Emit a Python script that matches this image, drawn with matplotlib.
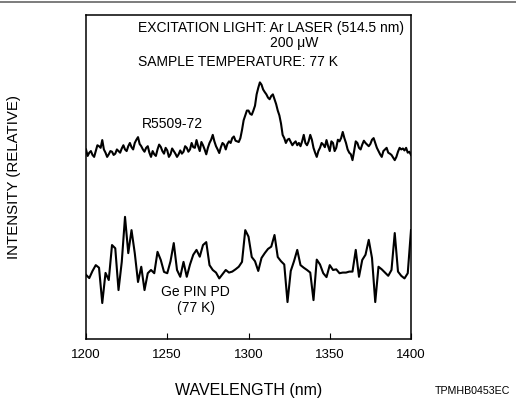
import matplotlib
matplotlib.use("Agg")
import matplotlib.pyplot as plt
import numpy as np
from matplotlib.lines import Line2D

plt.rcParams['font.family'] = ['Liberation Sans', 'DejaVu Sans']

# R5509-72 response (relative), 1 nm steps from 1200 to 1400 nm
wl_r5509 = np.arange(1200, 1401, 1)
r5509 = [5.85, 5.65, 5.75, 5.80, 5.68, 5.62, 5.80, 5.98, 5.95, 5.90,
         6.14, 5.85, 5.75, 5.62, 5.70, 5.80, 5.78, 5.68, 5.72, 5.85,
         5.80, 5.75, 5.88, 5.98, 5.85, 5.80, 5.95, 6.05, 5.92, 5.85,
         6.05, 6.15, 6.23, 6.02, 5.95, 5.85, 5.78, 5.90, 5.95, 5.75,
         5.62, 5.80, 5.70, 5.65, 5.85, 6.00, 5.93, 5.80, 5.72, 5.90,
         5.82, 5.62, 5.70, 5.88, 5.80, 5.72, 5.62, 5.70, 5.82, 5.72,
         5.78, 5.95, 5.90, 5.78, 5.85, 6.05, 5.92, 5.90, 6.14, 5.95,
         5.80, 6.08, 5.98, 5.85, 5.70, 5.90, 6.05, 6.15, 6.30, 6.10,
         5.95, 5.85, 5.74, 5.92, 6.05, 6.00, 5.85, 6.02, 6.10, 6.05,
         6.20, 6.25, 6.12, 6.10, 6.08, 6.20, 6.45, 6.75, 6.90, 7.05,
         7.05, 6.95, 6.92, 7.05, 7.20, 7.55, 7.75, 7.92, 7.85, 7.70,
         7.62, 7.55, 7.45, 7.40, 7.50, 7.55, 7.40, 7.25, 7.05, 6.90,
         6.65, 6.30, 6.20, 6.05, 6.15, 6.18, 6.08, 5.98, 6.05, 6.10,
         5.98, 6.05, 5.95, 6.10, 6.30, 6.05, 5.98, 6.10, 6.30, 6.15,
         5.90, 5.75, 5.62, 5.80, 5.90, 6.05, 6.00, 5.92, 6.14, 5.95,
         5.80, 6.10, 6.05, 5.80, 5.90, 6.15, 6.10, 6.20, 6.39, 6.20,
         6.05, 5.85, 5.75, 5.70, 5.52, 5.80, 6.10, 6.05, 5.90, 5.85,
         6.00, 6.12, 6.05, 6.00, 5.95, 6.02, 6.15, 6.20, 6.05, 5.90,
         5.80, 5.70, 5.62, 5.80, 5.85, 5.90, 5.75, 5.72, 5.68, 5.60,
         5.52, 5.62, 5.78, 5.90, 5.85, 5.88, 5.82, 5.90, 5.75, 5.78,
         5.68]

# Ge PIN PD (77 K) response (relative), 2 nm steps
wl_ge = np.arange(1200, 1401, 2)
ge_pin = [1.98, 1.88, 2.10, 2.28, 2.20, 1.11, 2.04, 1.82, 2.90, 2.80,
          1.51, 2.38, 3.77, 2.65, 3.36, 2.65, 1.76, 2.23, 1.51, 2.03,
          2.13, 2.03, 2.69, 2.44, 2.07, 2.03, 2.40, 2.96, 2.13, 1.92,
          2.38, 1.92, 2.30, 2.60, 2.75, 2.54, 2.90, 2.99, 2.28, 2.13,
          2.05, 1.87, 2.00, 2.13, 2.05, 2.08, 2.15, 2.23, 2.38, 3.36,
          3.16, 2.53, 2.40, 2.10, 2.50, 2.65, 2.78, 2.85, 3.21, 2.53,
          2.40, 2.30, 1.14, 2.10, 2.40, 2.75, 2.28, 2.20, 2.13, 2.05,
          1.20, 2.45, 2.30, 2.03, 1.91, 2.28, 2.13, 2.15, 2.03, 2.05,
          2.05, 2.08, 2.08, 2.75, 1.92, 2.44, 2.60, 3.06, 2.50, 1.14,
          2.23, 2.15, 2.05, 1.95, 2.13, 3.27, 2.08, 1.95, 1.87, 2.03,
          3.36]

x_ticks = [1200, 1250, 1300, 1350, 1400]
font_size = 10

fig = plt.figure(figsize=(5.16, 4.04), dpi=100)
ax = fig.add_axes([0.1667, 0.1609, 0.6298, 0.802])

ax.plot(wl_r5509, r5509, '-', color='black', linewidth=1.5)
ax.plot(wl_ge, ge_pin, '-', color='black', linewidth=1.5)

ax.set_xlim(1200, 1400)
ax.set_ylim(0, 10)
ax.set_xticks(x_ticks)
ax.set_yticks([])
for s in ax.spines.values():
    s.set_linewidth(1.1)
ax.tick_params(axis='x', direction='in', length=4, width=0.8, labelsize=9.5, pad=7)

ax.set_xlabel("WAVELENGTH (nm)", fontsize=11.5)
ax.set_ylabel("INTENSITY (RELATIVE)", fontsize=10.8)
ax.xaxis.set_label_coords(0.5, -0.136)
ax.yaxis.set_label_coords(-0.2, 0.5)

# annotations
ax.text(1232, 9.6, "EXCITATION LIGHT: Ar LASER (514.5 nm)", fontsize=font_size, va='center', ha='left')
ax.text(1328, 9.14, "200 \u03bcW", fontsize=font_size, va='center', ha='center')
ax.text(1232, 8.55, "SAMPLE TEMPERATURE: 77 K", fontsize=font_size, va='center', ha='left')
ax.text(1253, 6.64, "R5509-72", fontsize=font_size, va='center', ha='center')
ax.text(1267.5, 1.45, "Ge PIN PD", fontsize=font_size, va='center', ha='center')
ax.text(1267.5, 0.95, "(77 K)", fontsize=font_size, va='center', ha='center')

fig.text(0.989, 0.032, "TPMHB0453EC", fontsize=7.7, ha='right', va='center')

# header rule at the top of the figure
fig.add_artist(Line2D([0, 1], [0.994, 0.994], color='#666666', linewidth=1.2))

plt.savefig('out.png', dpi=100)
